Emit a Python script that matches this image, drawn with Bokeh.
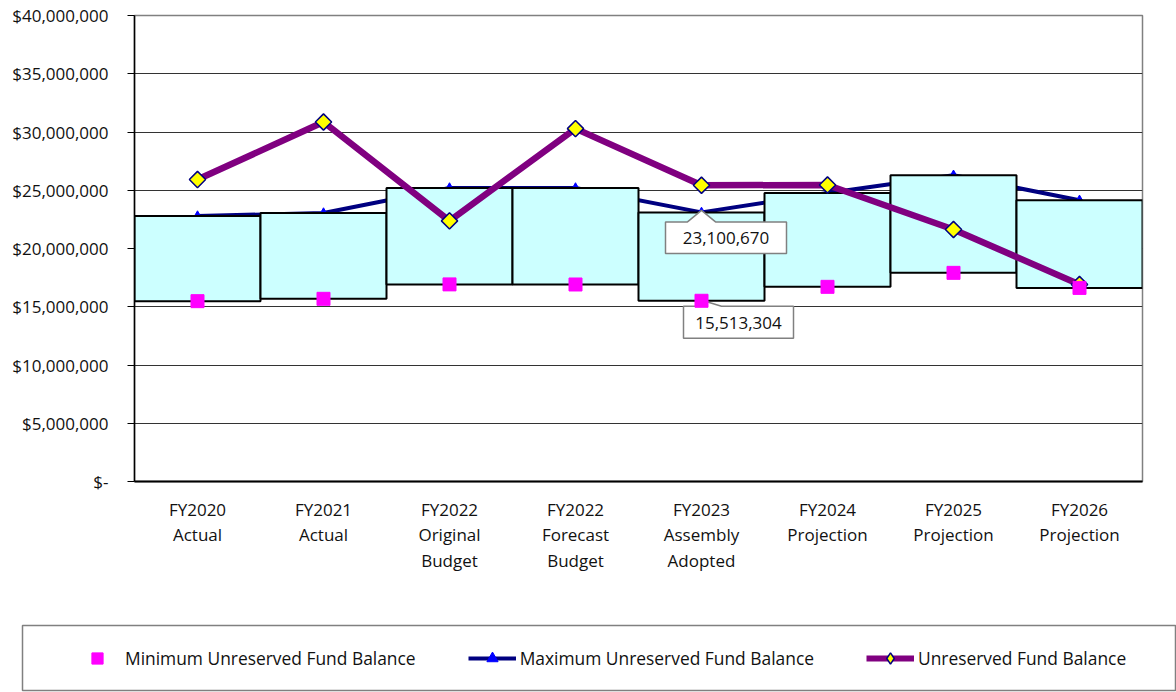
import math
from bokeh.plotting import figure
from bokeh.models import FactorRange, Range1d, FixedTicker, NumeralTickFormatter, Legend, LegendItem
from bokeh.layouts import column
from bokeh.embed import file_html
from bokeh.resources import INLINE
from bokeh.core.properties import value

# ---------------- data ----------------
categories = [
    "FY2020\nActual",
    "FY2021\nActual",
    "FY2022\nOriginal\nBudget",
    "FY2022\nForecast\nBudget",
    "FY2023\nAssembly\nAdopted",
    "FY2024\nProjection",
    "FY2025\nProjection",
    "FY2026\nProjection",
]
min_balance = [15480000, 15680000, 16920000, 16910000, 15513304, 16710000, 17910000, 16620000]
max_balance = [22790000, 23050000, 25200000, 25200000, 23100670, 24770000, 26290000, 24140000]
unreserved = [25920000, 30860000, 22370000, 30290000, 25430000, 25450000, 21630000, 16910000]
y_ticks = [0, 5000000, 10000000, 15000000, 20000000, 25000000, 30000000, 35000000, 40000000]
legend_labels = ["Minimum Unreserved Fund Balance", "Maximum Unreserved Fund Balance", "Unreserved Fund Balance"]
callout_index = 4  # FY2023 Assembly Adopted

FONT = "Open Sans"
TXT = "#111111"

# frame geometry (pixels) used for annotation offsets
FRAME_W, FRAME_H = 1008, 466
Y_MAX = 40000000
px_x = 1.0 / (FRAME_W / len(categories))
px_y = Y_MAX / FRAME_H

p = figure(
    width=1176, height=608,
    x_range=FactorRange(*categories),
    y_range=Range1d(0, Y_MAX),
    output_backend="svg", toolbar_location=None,
    min_border_left=134, min_border_right=34, min_border_top=15, min_border_bottom=127,
)
p.frame_align = False
p.outline_line_color = "#808080"
p.outline_line_width = 1.5
p.xgrid.visible = False
p.ygrid.grid_line_color = "#333333"
p.ygrid.grid_line_width = 1

p.yaxis.ticker = FixedTicker(ticks=y_ticks, minor_ticks=[])
p.yaxis.formatter = NumeralTickFormatter(format="$0,0")
p.yaxis.major_label_overrides = {0: "$-"}
p.yaxis.major_tick_out = 7
p.yaxis.major_tick_in = 0
p.yaxis.minor_tick_out = 0
p.yaxis.minor_tick_in = 0
p.yaxis.major_tick_line_color = "black"
p.yaxis.axis_line_color = "black"
p.yaxis.axis_line_width = 1.5
p.yaxis.major_label_standoff = 19
p.yaxis.major_label_text_font = FONT
p.yaxis.major_label_text_font_size = "17px"
p.yaxis.major_label_text_color = TXT

p.xaxis.major_tick_out = 0
p.xaxis.major_tick_in = 0
p.xaxis.axis_line_color = "black"
p.xaxis.axis_line_width = 2
p.xaxis.major_label_standoff = 16
p.xaxis.major_label_text_font = FONT
p.xaxis.major_label_text_font_size = "17px"
p.xaxis.major_label_text_color = TXT
p.xaxis.major_label_text_line_height = 1.13

# maximum line (behind the boxes)
p.line(categories, max_balance, line_color="#000080", line_width=4)
p.scatter(categories, max_balance, marker="triangle", size=9, fill_color="#0000FF", line_color="#0000FF")

# range boxes
p.vbar(x=categories, width=1.0, bottom=min_balance, top=max_balance,
       fill_color="#CCFFFF", line_color="black", line_width=2)

# callouts
ci = callout_index + 0.5


def callout(val, shape, text_off, text):
    xs = [ci + ox * px_x for ox, oy in shape]
    ys = [val - oy * px_y for ox, oy in shape]
    p.patch(xs, ys, fill_color="white", line_color="#808080", line_width=1.5)
    p.text(x=[ci + text_off[0] * px_x], y=[val - text_off[1] * px_y], text=[text],
           text_align="center", text_baseline="middle",
           text_font=value(FONT), text_font_size="17px", text_color=TXT)


vmax = max_balance[callout_index]
vmin = min_balance[callout_index]
callout(vmax, [(-36, 9.5), (-14, 9.5), (0, -2), (14, 9.5), (85, 9.5), (85, 41), (-36, 41)],
        (24.5, 25.5), "{:,}".format(vmax))
callout(vmin, [(-18, 5.5), (-6, 5.5), (2, 0), (20, 5.5), (92, 5.5), (92, 37.5), (-18, 37.5)],
        (37, 22), "{:,}".format(vmin))

# unreserved fund balance
p.line(categories, unreserved, line_color="#800080", line_width=6.5)
p.scatter(categories, unreserved, marker="square", angle=math.pi / 4, size=11.5,
          fill_color="#FFFF00", line_color="#000080", line_width=1.5)

# minimum squares
p.scatter(categories, min_balance, marker="square", size=13, fill_color="#FF00FF", line_color="#FF00FF")

# ---------------- legend panel ----------------
lp = figure(
    width=1176, height=84,
    x_range=Range1d(0, 1), y_range=Range1d(0, 1),
    x_axis_type=None, y_axis_type=None,
    output_backend="svg", toolbar_location=None,
    min_border_left=22, min_border_right=1, min_border_top=17, min_border_bottom=2,
)
lp.frame_align = False
lp.outline_line_color = "#808080"
lp.outline_line_width = 1.5
lp.grid.visible = False
nan = float("nan")
r_min = lp.scatter([nan], [nan], marker="square", size=12, fill_color="#FF00FF", line_color="#FF00FF")
r_maxl = lp.line([nan, nan], [nan, nan], line_color="#000080", line_width=4)
r_maxm = lp.scatter([nan], [nan], marker="triangle", size=9, fill_color="#0000FF", line_color="#0000FF")
r_unl = lp.line([nan, nan], [nan, nan], line_color="#800080", line_width=6)
r_unm = lp.scatter([nan], [nan], marker="diamond", size=8,
                   fill_color="#FFFF00", line_color="#000080", line_width=1.5)

legend = Legend(
    items=[
        LegendItem(label=legend_labels[0], renderers=[r_min]),
        LegendItem(label=legend_labels[1], renderers=[r_maxl, r_maxm]),
        LegendItem(label=legend_labels[2], renderers=[r_unl, r_unm]),
    ],
    orientation="horizontal", location=(51, 18),
    glyph_width=48, glyph_height=28, label_standoff=4, spacing=52,
    padding=0, margin=0, border_line_color=None, background_fill_alpha=0,
    label_text_font=FONT, label_text_font_size="17.4px", label_text_color=TXT,
)
lp.add_layout(legend)

layout = column(p, lp, spacing=0)
open("out.html", "w").write(file_html(layout, INLINE))
